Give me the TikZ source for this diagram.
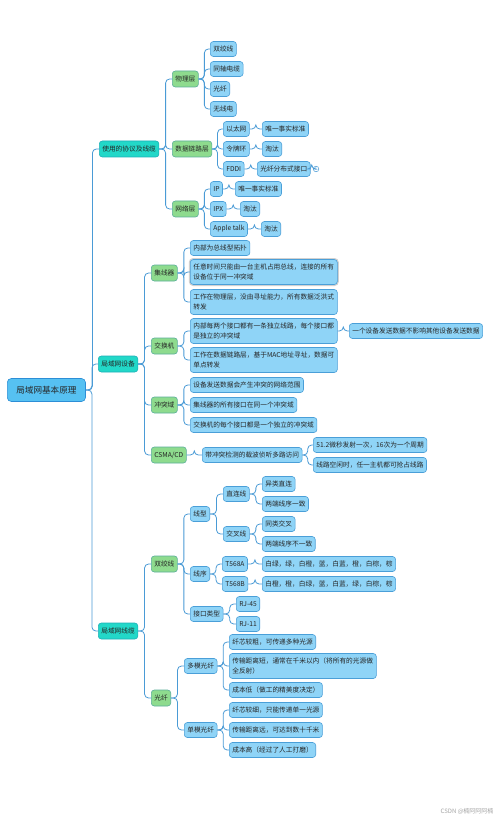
\documentclass[tikz,border=0pt]{standalone}
\usepackage{fontspec}
\newfontfamily\cjk{Noto Sans CJK SC}
\usetikzlibrary{calc}
\definecolor{leaffill}{HTML}{8FD4F7}
\definecolor{leafline}{HTML}{4A9FD8}
\definecolor{greenfill}{HTML}{8EDB8E}
\definecolor{greenline}{HTML}{5BAF9A}
\definecolor{tealfill}{HTML}{22D8C8}
\definecolor{tealline}{HTML}{1FB0B8}
\definecolor{rootfill}{HTML}{56C1F2}
\definecolor{rootline}{HTML}{2C8ED6}
\definecolor{wirecol}{HTML}{4A9BD6}
% elbow connector from parent to child
\newcommand\tie[2]{\draw[wire] (#1.east) -- ($(#1.east)!.5!(#2.west|-#1.east)$) |- (#2.west);}

\begin{document}
\begin{tikzpicture}[x=1pt, y=-1pt,
  leaf/.style={anchor=west, draw=leafline, fill=leaffill, rounded corners=3pt, line width=0.6pt,
    inner xsep=3pt, inner ysep=0pt, minimum height=15pt, text=black!85,
    font=\cjk\fontsize{6.7}{10}\selectfont},
  wide/.style={leaf, text width=141pt, align=left, minimum height=25pt},
  layer/.style={leaf, draw=greenline, fill=greenfill, minimum height=16pt},
  branch/.style={leaf, draw=tealline, fill=tealfill, minimum height=16pt},
  rootbox/.style={leaf, draw=rootline, fill=rootfill, minimum height=23pt, inner xsep=9pt,
    rounded corners=4pt, font=\cjk\fontsize{8.6}{10}\selectfont},
  picked/.style={preaction={draw=black!18, line width=3pt}},
  wire/.style={draw=wirecol, line width=0.8pt, rounded corners=4pt}]
  \path[use as bounding box, fill=white] (0,0) rectangle (500,818);

  % root and first level
  \node[rootbox] (root) at (7,390) {局域网基本原理};
  \node[branch] (proto) at (99,149) {使用的协议及线缆};
  \node[branch] (dev) at (98,364) {局域网设备};
  \node[branch] (cable) at (98,631) {局域网线缆};

  % protocols and cables
  \node[layer] (phys) at (172,79) {物理层};
  \node[layer] (dlink) at (172,149) {数据链路层};
  \node[layer] (netw) at (172,209) {网络层};
  \node[leaf] (tp) at (210,49) {双绞线};
  \node[leaf] (coax) at (210,69) {同轴电缆};
  \node[leaf] (fib) at (210,89) {光纤};
  \node[leaf] (radio) at (210,109) {无线电};
  \node[leaf] (eth) at (223,129) {以太网};
  \node[leaf] (ethA) at (262,129) {唯一事实标准};
  \node[leaf] (ring) at (223,149) {令牌环};
  \node[leaf] (ringA) at (262,149) {淘汰};
  \node[leaf] (fddi) at (223,169) {FDDI};
  \node[leaf] (fddiA) at (257,169) {光纤分布式接口};
  \node[circle, draw=wirecol, fill=white, line width=0.5pt, inner sep=0.7pt, anchor=west,
    text=wirecol, font=\cjk\fontsize{4}{4}\selectfont] (fold) at (313,169) {1};
  \node[leaf] (ip) at (210,189) {IP};
  \node[leaf] (ipA) at (235,189) {唯一事实标准};
  \node[leaf] (ipx) at (210,209) {IPX};
  \node[leaf] (ipxA) at (240,209) {淘汰};
  \node[leaf] (atalk) at (210,229) {Apple talk};
  \node[leaf] (atalkA) at (261,229) {淘汰};

  % devices
  \node[layer] (hub) at (151,273) {集线器};
  \node[leaf] (hubA) at (190,248) {内部为总线型拓扑};
  \node[wide, picked] (hubB) at (190,272) {任意时间只能由一台主机占用总线，连接的所有\\设备位于同一冲突域};
  \node[wide] (hubC) at (190,302) {工作在物理层，没由寻址能力，所有数据泛洪式\\转发};
  \node[layer] (sw) at (151,346) {交换机};
  \node[wide] (swA) at (190,331) {内部每两个接口都有一条独立线路，每个接口都\\是独立的冲突域};
  \node[leaf] (swAA) at (349,331) {一个设备发送数据不影响其他设备发送数据};
  \node[wide] (swB) at (190,360) {工作在数据链路层，基于MAC地址寻址，数据可\\单点转发};
  \node[layer] (cd) at (151,405) {冲突域};
  \node[leaf] (cdA) at (190,385) {设备发送数据会产生冲突的网络范围};
  \node[leaf] (cdB) at (190,405) {集线器的所有接口在同一个冲突域};
  \node[leaf] (cdC) at (190,425) {交换机的每个接口都是一个独立的冲突域};
  \node[layer] (csma) at (151,455) {CSMA/CD};
  \node[leaf] (csmaA) at (202,455) {带冲突检测的载波侦听多路访问};
  \node[leaf] (csmaAA) at (313,445) {51.2微秒发射一次，16次为一个周期};
  \node[leaf] (csmaAB) at (313,465) {线路空闲时，任一主机都可抢占线路};

  % twisted pair
  \node[layer] (tw) at (151,564) {双绞线};
  \node[leaf] (kind) at (190,514) {线型};
  \node[leaf] (direct) at (223,494) {直连线};
  \node[leaf] (directA) at (262,484) {异类直连};
  \node[leaf] (directB) at (262,504) {两端线序一致};
  \node[leaf] (cross) at (223,534) {交叉线};
  \node[leaf] (crossA) at (262,524) {同类交叉};
  \node[leaf] (crossB) at (262,544) {两端线序不一致};
  \node[leaf] (order) at (190,574) {线序};
  \node[leaf] (ta) at (222,564) {T568A};
  \node[leaf] (taA) at (262,564) {白绿，绿，白橙，蓝，白蓝，橙，白棕，棕};
  \node[leaf] (tb) at (222,584) {T568B};
  \node[leaf] (tbA) at (262,584) {白橙，橙，白绿，蓝，白蓝，绿，白棕，棕};
  \node[leaf] (plug) at (190,614) {接口类型};
  \node[leaf] (rjA) at (236,604) {RJ-45};
  \node[leaf] (rjB) at (236,624) {RJ-11};

  % optical fibre
  \node[layer] (of) at (151,698) {光纤};
  \node[leaf] (mm) at (184,666) {多模光纤};
  \node[leaf] (mmA) at (229,642) {纤芯较粗，可传递多种光源};
  \node[wide] (mmB) at (229,666) {传输距离短，通常在千米以内（将所有的光源做\\全反射）};
  \node[leaf] (mmC) at (229,690) {成本低（做工的精美度决定）};
  \node[leaf] (sm) at (184,730) {单模光纤};
  \node[leaf] (smA) at (229,710) {纤芯较细，只能传递单一光源};
  \node[leaf] (smB) at (229,730) {传输距离远，可达到数十千米};
  \node[leaf] (smC) at (229,750) {成本高（经过了人工打磨）};

  \node[anchor=east, text=black!35, font=\cjk\fontsize{6}{6}\selectfont] (mark) at (497,811) {CSDN @楠阿阿阿楠};

  % connectors
  \foreach \c in {proto,dev,cable} {\tie{root}{\c}}
  \foreach \c in {phys,dlink,netw} {\tie{proto}{\c}}
  \foreach \c in {tp,coax,fib,radio} {\tie{phys}{\c}}
  \foreach \c in {eth,ring,fddi} {\tie{dlink}{\c}}
  \foreach \c in {ip,ipx,atalk} {\tie{netw}{\c}}
  \tie{eth}{ethA} \tie{ring}{ringA} \tie{fddi}{fddiA} \tie{fddiA}{fold}
  \tie{ip}{ipA} \tie{ipx}{ipxA} \tie{atalk}{atalkA}
  \foreach \c in {hub,sw,cd,csma} {\tie{dev}{\c}}
  \foreach \c in {hubA,hubB,hubC} {\tie{hub}{\c}}
  \foreach \c in {swA,swB} {\tie{sw}{\c}}
  \tie{swA}{swAA}
  \foreach \c in {cdA,cdB,cdC} {\tie{cd}{\c}}
  \tie{csma}{csmaA}
  \foreach \c in {csmaAA,csmaAB} {\tie{csmaA}{\c}}
  \foreach \c in {tw,of} {\tie{cable}{\c}}
  \foreach \c in {kind,order,plug} {\tie{tw}{\c}}
  \foreach \c in {direct,cross} {\tie{kind}{\c}}
  \foreach \c in {directA,directB} {\tie{direct}{\c}}
  \foreach \c in {crossA,crossB} {\tie{cross}{\c}}
  \foreach \c in {ta,tb} {\tie{order}{\c}}
  \tie{ta}{taA} \tie{tb}{tbA}
  \foreach \c in {rjA,rjB} {\tie{plug}{\c}}
  \foreach \c in {mm,sm} {\tie{of}{\c}}
  \foreach \c in {mmA,mmB,mmC} {\tie{mm}{\c}}
  \foreach \c in {smA,smB,smC} {\tie{sm}{\c}}
\end{tikzpicture}
\end{document}
